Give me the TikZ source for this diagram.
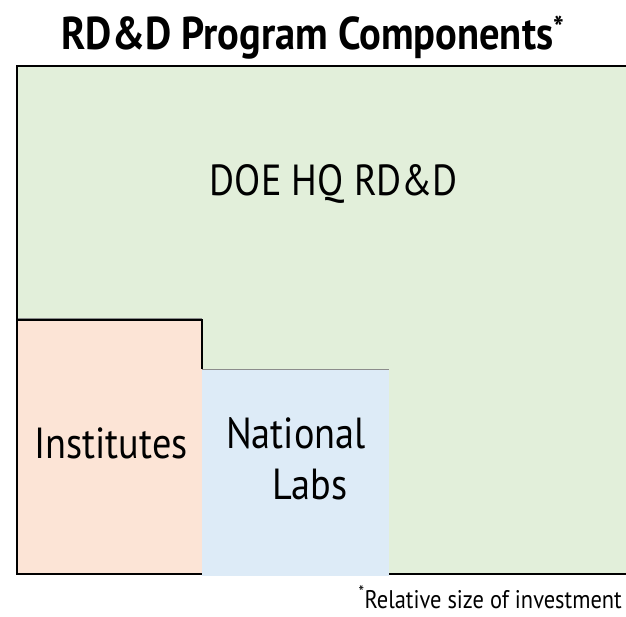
\documentclass[tikz,border=0pt]{standalone}
\usepackage{fontspec}
\setmainfont{PT Sans}[FakeStretch=0.88]
\definecolor{hqgreen}{HTML}{E2EFDA}
\definecolor{instpink}{HTML}{FCE4D6}
\definecolor{labblue}{HTML}{DDEBF7}
\definecolor{edgegray}{HTML}{8C8C8C}
\begin{document}
\begin{tikzpicture}[x=1pt,y=-1pt,
  lbl/.style={inner sep=0pt,anchor=base,font=\fontsize{43.5}{50}\selectfont},
  edge/.style={line width=2.2pt,black},
  thin edge/.style={line width=1pt,edgegray}]
\useasboundingbox (0,0) rectangle (626,616);
% component areas
\fill[hqgreen] (17,66) rectangle (626,574);
\fill[instpink] (17,320) rectangle (202,574);
\fill[labblue] (202,369) rectangle (389,576);
% outlines
\draw[thin edge] (17,318) -- (202,318);
\draw[thin edge] (202,369) -- (389,369);
\draw[edge] (626,66) -- (17,66) -- (17,574) -- (202,574);
\draw[edge] (17,320) -- (202,320) -- (202,369);
\draw[edge] (389,574) -- (626,574);
% labels
\node[inner sep=0pt,anchor=base,font=\fontsize{46}{54}\selectfont\bfseries] (title) at (313,49) {RD\&D Program Components\textsuperscript{*}};
\node[lbl] (hq) at (334,195) {DOE HQ RD\&D};
\node[lbl] (inst) at (111,458) {Institutes};
\node[lbl] (labs) at (296,448) {National};
\node[lbl] (labs2) at (310,499) {Labs};
\node[inner sep=0pt,anchor=base east,font=\fontsize{25.5}{30}\selectfont] (note) at (622,608) {\textsuperscript{*}Relative size of investment};
\end{tikzpicture}
\end{document}
